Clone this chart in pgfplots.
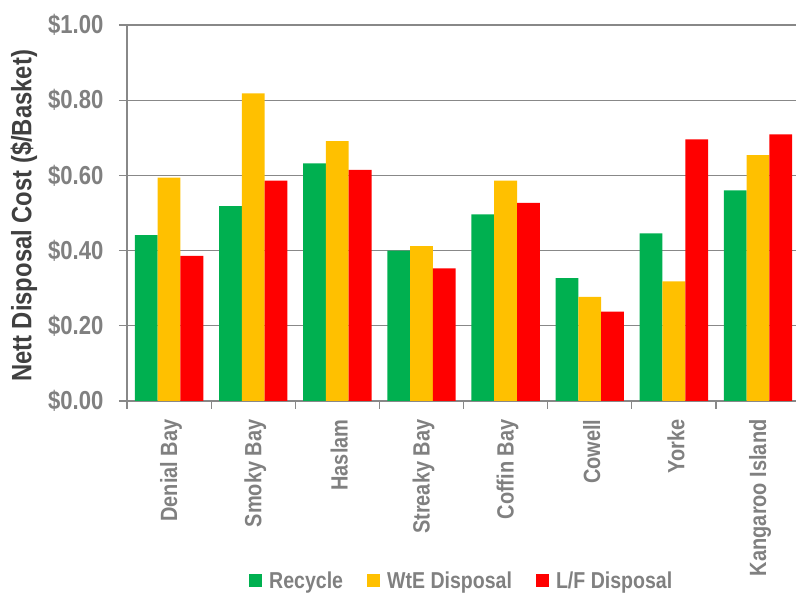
\documentclass[border=0pt]{standalone}
\usepackage{pgfplots}
\pgfplotsset{compat=1.18}
\usepackage{fontspec}
\setmainfont[FakeStretch=0.85]{Liberation Sans}

\definecolor{recycle}{HTML}{00B050}
\definecolor{wte}{HTML}{FFC000}
\definecolor{landfill}{HTML}{FF0000}
\definecolor{txtgray}{HTML}{808080}
\definecolor{labgray}{HTML}{404040}
\definecolor{gridgray}{HTML}{888888}

\begin{document}
\begin{tikzpicture}
\path[use as bounding box] (-127pt,-192pt) rectangle (669pt,401pt);
\begin{axis}[
  scale only axis,
  width=673.1pt, height=376pt,
  ybar=0pt, bar width=22.8pt,
  xmin=-0.5, xmax=7.5,
  ymin=0, ymax=1,
  axis x line=bottom, axis y line=left,
  axis line style={-, gridgray, line width=1.2pt},
  ymajorgrids,
  major grid style={gridgray, line width=1.2pt},
  tick align=outside,
  major tick length=8pt,
  tick style={gridgray, line width=1.2pt},
  ytick={0,0.2,0.4,0.6,0.8,1.0},
  yticklabels={\$0.00,\$0.20,\$0.40,\$0.60,\$0.80,\$1.00},
  yticklabel style={font=\fontsize{26}{28}\selectfont\bfseries, text=txtgray, xshift=-12pt},
  xtick={-0.5,0.5,...,7.5},
  x tick label as interval,
  xticklabels={Denial Bay,Smoky Bay,Haslam,Streaky Bay,Coffin Bay,Cowell,Yorke,Kangaroo Island},
  xticklabel style={font=\fontsize{23.5}{26}\selectfont\bfseries, text=txtgray, rotate=90, anchor=east, xshift=-7pt, yshift=-2pt},
  every axis y label/.style={at={([xshift=-103pt,yshift=-3pt]axis description cs:0,0.5)}, rotate=90, anchor=center},
  ylabel={Nett Disposal Cost (\$/Basket)},
  ylabel style={font=\fontsize{28}{30}\selectfont\bfseries, text=labgray},
  legend columns=3,
  legend style={draw=none, fill=none, inner sep=0pt,
    at={([xshift=122pt,yshift=-180pt]axis description cs:0,0)}, anchor=west,
    font=\fontsize{23}{26}\selectfont\bfseries, text=txtgray,
    /tikz/every even column/.append style={column sep=22pt}},
  legend cell align=left,
  legend image code/.code={\fill[#1] (0pt,-6pt) rectangle (13pt,7pt); \path (18pt,0pt);},
]
\addplot[fill=recycle, draw=none] coordinates {
  (0,0.441) (1,0.518) (2,0.632) (3,0.400) (4,0.496) (5,0.327) (6,0.446) (7,0.560)};
\addplot[fill=wte, draw=none] coordinates {
  (0,0.594) (1,0.818) (2,0.691) (3,0.412) (4,0.586) (5,0.277) (6,0.318) (7,0.654)};
\addplot[fill=landfill, draw=none] coordinates {
  (0,0.386) (1,0.586) (2,0.615) (3,0.353) (4,0.527) (5,0.238) (6,0.696) (7,0.709)};
\legend{Recycle,WtE Disposal,L/F Disposal}
\end{axis}
\end{tikzpicture}
\end{document}
